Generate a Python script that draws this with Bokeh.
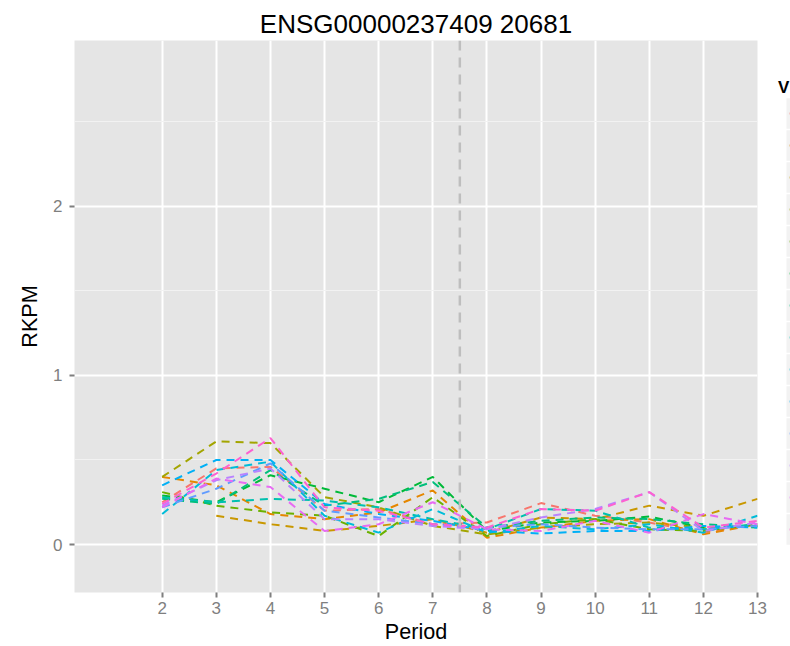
import math
from bokeh.plotting import figure
from bokeh.models import Range1d, FixedTicker, Span
from bokeh.layouts import row
from bokeh.embed import file_html
from bokeh.resources import INLINE
from bokeh.core.properties import value

NaN = float("nan")

# ---------------- data ----------------
periods = [2, 3, 4, 5, 6, 7, 8, 9, 10, 11, 12, 13]
x_ticks = [2, 3, 4, 5, 6, 7, 8, 9, 10, 11, 12, 13]
y_ticks = [0, 1, 2]
y_minor = [0.5, 1.5, 2.5]
boundary = 7.5
title_text = "ENSG00000237409 20681"
legend_title = "V"

series_names = ["s01", "s02", "s03", "s04", "s05", "s06", "s07",
                "s08", "s09", "s10", "s11", "s12", "s13", "s14"]
series_colors = ["#F8766D", "#E58700", "#C99800", "#A3A500", "#6BB100",
                 "#00BA38", "#00BF7D", "#00C0AF", "#00BCD8", "#00B0F6",
                 "#619CFF", "#B983FF", "#E76BF3", "#FD61D1"]

s01 = [0.25, 0.45, 0.46, 0.20, 0.21, 0.12, 0.13, 0.245, 0.17, 0.13, 0.07, 0.12]
s02 = [0.40, 0.35, 0.18, 0.15, 0.19, 0.32, 0.04, 0.10, 0.14, 0.15, 0.06, 0.12]
s03 = [NaN, 0.17, 0.12, 0.08, 0.11, 0.15, 0.07, 0.16, 0.15, 0.23, 0.17, 0.27]
s04 = [0.40, 0.61, 0.60, 0.28, 0.22, 0.11, 0.06, 0.10, 0.12, 0.13, 0.10, 0.11]
s05 = [0.31, 0.23, 0.19, 0.17, 0.05, 0.28, 0.05, 0.12, 0.15, 0.09, 0.08, 0.12]
s06 = [0.29, 0.25, 0.41, 0.33, 0.25, 0.40, 0.08, 0.13, 0.14, 0.165, 0.10, 0.11]
s07 = [0.27, 0.24, 0.44, 0.23, 0.27, 0.37, 0.10, 0.14, 0.16, 0.15, 0.12, 0.10]
s08 = [0.28, 0.25, 0.27, 0.26, 0.22, 0.15, 0.09, 0.21, 0.20, 0.10, 0.09, 0.12]
s09 = [0.18, 0.44, 0.49, 0.17, 0.07, 0.21, 0.07, 0.11, 0.09, 0.12, 0.07, 0.17]
s10 = [0.35, 0.50, 0.50, 0.24, 0.18, 0.14, 0.08, 0.065, 0.08, 0.08, 0.11, 0.10]
s11 = [0.22, 0.33, 0.48, 0.20, 0.16, 0.12, 0.10, 0.12, 0.10, 0.09, 0.09, 0.11]
s12 = [0.23, 0.38, 0.45, 0.15, 0.15, 0.11, 0.09, 0.16, 0.21, 0.31, 0.08, 0.13]
s13 = [0.22, 0.39, 0.34, 0.08, 0.12, 0.25, 0.09, 0.08, 0.14, 0.07, 0.18, 0.12]
s14 = [0.24, 0.42, 0.63, 0.22, 0.20, 0.12, 0.10, 0.21, 0.20, 0.31, 0.10, 0.14]

series_values = [s01, s02, s03, s04, s05, s06, s07, s08, s09, s10, s11, s12, s13, s14]

FONT = "Liberation Sans"

# ---------------- main panel ----------------
p = figure(width=776, height=646,
           x_range=Range1d(0.38, 13.0), y_range=Range1d(-0.284, 2.982),
           output_backend="svg", toolbar_location=None,
           title=title_text,
           min_border_left=74, min_border_right=19,
           min_border_top=40, min_border_bottom=54)

p.background_fill_color = "#E5E5E5"
p.border_fill_color = "white"
p.outline_line_color = None

p.title.align = "center"
p.title.text_font = FONT
p.title.text_font_size = "26px"
p.title.text_font_style = "normal"
p.title.text_color = "black"
p.title.standoff = 4

p.xaxis.ticker = FixedTicker(ticks=x_ticks)
p.yaxis.ticker = FixedTicker(ticks=y_ticks, minor_ticks=y_minor)
p.xgrid.ticker = FixedTicker(ticks=x_ticks)
p.ygrid.ticker = FixedTicker(ticks=y_ticks, minor_ticks=y_minor)

for ax in (p.xaxis[0], p.yaxis[0]):
    ax.axis_line_color = None
    ax.major_tick_line_color = "#7F7F7F"
    ax.major_tick_line_width = 2
    ax.major_tick_out = 5
    ax.major_tick_in = 0
    ax.minor_tick_line_color = None
    ax.major_label_text_color = "#7F7F7F"
    ax.major_label_text_font = FONT
    ax.major_label_text_font_size = "17px"
    ax.axis_label_text_font = FONT
    ax.axis_label_text_font_size = "21.6px"
    ax.axis_label_text_font_style = "normal"
    ax.axis_label_text_color = "black"

p.xaxis.axis_label = "Period"
p.yaxis.axis_label = "RKPM"
p.xaxis.major_label_standoff = 4
p.xaxis.axis_label_standoff = 2
p.yaxis.major_label_standoff = 7
p.yaxis.axis_label_standoff = 8

p.grid.grid_line_color = "white"
p.grid.grid_line_width = 2
p.ygrid.minor_grid_line_color = "#F2F2F2"
p.ygrid.minor_grid_line_width = 1

for name, col, vals in zip(series_names, series_colors, series_values):
    p.line(periods, vals, line_color=col, line_width=2, line_dash="8 6")

p.add_layout(Span(location=boundary, dimension="height", line_color="#BEBEBE",
                  line_width=2.5, line_dash="10 7"))

# ---------------- clipped legend fragment ----------------
# frame of this figure is aligned with the main frame (y from 40 to 592 px)
lf = figure(width=14, height=646, x_range=Range1d(0, 14), y_range=Range1d(592, 40),
            output_backend="svg", toolbar_location=None,
            x_axis_type=None, y_axis_type=None,
            min_border=0, min_border_left=0, min_border_right=0,
            min_border_top=0, min_border_bottom=0)
lf.outline_line_color = None
lf.background_fill_color = "white"
lf.border_fill_color = "white"
lf.grid.visible = False

n = len(series_names)
key_top = [97.7 + 32 * i for i in range(n)]
key_bot = [t + 30.5 for t in key_top]
key_mid = [t + 15.25 for t in key_top]
lf.quad(left=10, right=15, top=key_top, bottom=key_bot,
        fill_color="#F2F2F2", line_color=None)
lf.segment(x0=[13.2] * n, x1=[15] * n, y0=key_mid, y1=key_mid,
           line_color=series_colors, line_width=2)
lf.text(x=[1.5], y=[87.3], text=[legend_title], text_font=value(FONT),
        text_font_style="bold", text_font_size="17px",
        text_baseline="alphabetic", text_align="left", text_color="black")

layout = row(p, lf)
open("out.html", "w").write(file_html(layout, INLINE))
